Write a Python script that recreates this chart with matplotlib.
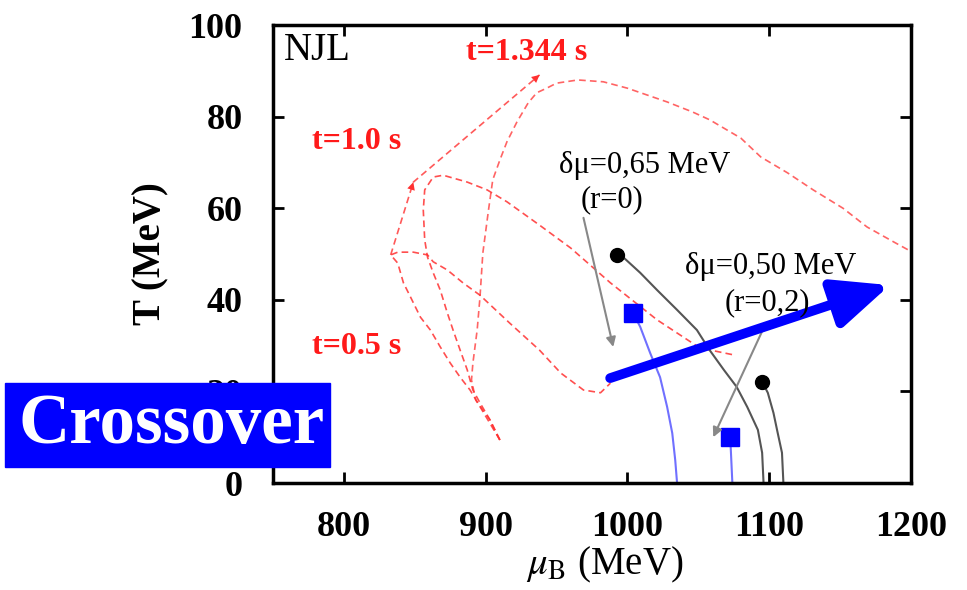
import matplotlib
matplotlib.use('Agg')
import matplotlib.pyplot as plt
from matplotlib.patches import Rectangle

plt.rcParams['font.family'] = ['Liberation Serif', 'DejaVu Serif']
plt.rcParams['mathtext.fontset'] = 'stix'

# temperature profiles (mu_B in MeV, T in MeV)
mu_05 = [910, 889, 882, 875, 868, 861, 854, 847, 842, 838, 833, 838, 849, 859, 863,
         873, 884, 896, 917, 938, 953, 969, 981, 988]
T_05 = [9.4, 20.3, 23.1, 26.2, 29.7, 33.4, 36.2, 40.6, 43.7, 48.0, 49.8, 50.4, 50.4, 49.8, 48.3,
        46.5, 43.7, 41.0, 34.9, 29.0, 24.0, 20.3, 19.7, 21.8]

mu_10 = [910, 903, 896, 891, 887, 882, 877, 873, 868, 863, 859, 857, 856, 857, 863, 870,
         887, 901, 915, 938, 960, 988, 1021, 1051, 1076]
T_10 = [9.4, 13.8, 17.5, 20.3, 24.7, 29.0, 33.4, 37.1, 42.1, 45.9, 49.3, 53.1, 59.6, 64.0, 66.8, 67.2,
        65.7, 64.0, 61.4, 56.3, 51.3, 43.7, 35.6, 29.5, 27.9]

mu_1344 = [910, 903, 893, 890, 891, 894, 896, 898, 902, 905, 910, 915, 922, 930, 936, 943, 950,
           965, 983, 1000, 1014, 1028, 1046, 1058, 1080, 1094, 1113, 1131, 1152, 1169, 1188, 1198, 1213]
T_1344 = [9.4, 13.8, 18.1, 22.5, 26.2, 33.4, 40.6, 50.2, 59.6, 66.2, 70.5, 74.5, 78.8, 83.0, 85.2, 86.2, 87.3,
          88.0, 87.6, 86.2, 84.7, 83.2, 81.0, 79.3, 75.3, 71.2, 67.7, 64.0, 60.0, 55.9, 52.6, 50.9, 48.3]

# evolution of the temperature maximum
mu_max = [833, 849, 938]
T_max = [49.8, 65.7, 89.1]

# phase boundaries (blue: squares, black: dots)
mu_blue1 = [1004, 1009, 1016, 1023, 1028, 1031.6, 1033.7, 1035]
T_blue1 = [37.1, 34.1, 28.4, 23.1, 16.6, 10.9, 5.0, 0]
mu_blue2 = [1072.5, 1074]
T_blue2 = [10.0, 0]

mu_blk1 = [992.8, 997, 1009, 1021, 1035, 1049, 1058, 1068, 1077, 1084.5, 1092, 1095, 1096]
T_blk1 = [49.8, 49.3, 45.9, 42.1, 37.8, 33.4, 29.0, 24.7, 21.0, 16.6, 11.6, 6.6, 0]
mu_blk2 = [1095, 1099, 1103, 1106, 1109, 1110]
T_blk2 = [22.1, 19.7, 15.3, 10.9, 6.6, 0]

fig = plt.figure(figsize=(9.67, 5.90), dpi=100)
ax = fig.add_axes([273 / 967, 1 - 483 / 590, (911 - 273) / 967, (483 - 25) / 590])

red = '#ff3030'
dash = (0, (4, 2.5))
ax.plot(mu_05, T_05, color=red, lw=1.2, ls=dash, alpha=0.85)
ax.plot(mu_10, T_10, color=red, lw=1.2, ls=dash, alpha=0.85)
ax.plot(mu_1344, T_1344, color=red, lw=1.2, ls=dash, alpha=0.75)
ax.plot(mu_max, T_max, color=red, lw=1.2, ls=dash, alpha=0.8)
for i in range(1, len(mu_max)):
    ax.annotate('', xy=(mu_max[i], T_max[i]), xytext=(mu_max[i - 1], T_max[i - 1]),
                arrowprops=dict(arrowstyle='-|>', color=red, lw=0, mutation_scale=14,
                                shrinkA=0, shrinkB=0))

ax.plot(mu_blue1, T_blue1, color='#7070ff', lw=1.5)
ax.plot(mu_blue2, T_blue2, color='#7070ff', lw=1.5)
ax.plot([mu_blue1[0], mu_blue2[0]], [T_blue1[0], T_blue2[0]], 's', color='#0000ff', ms=13, ls='none')

ax.plot(mu_blk1, T_blk1, color='#555555', lw=1.5)
ax.plot(mu_blk2, T_blk2, color='#555555', lw=1.5)
ax.plot([mu_blk1[0], mu_blk2[0]], [T_blk1[0], T_blk2[0]], 'o', color='black', ms=10, ls='none')

# gray arrows from the labels
ax.annotate('', xy=(990, 29.7), xytext=(969, 57.9),
            arrowprops=dict(arrowstyle='-|>', color='#888888', lw=1.5, mutation_scale=14,
                            shrinkA=0, shrinkB=0))
ax.annotate('', xy=(1060.5, 10.0), xytext=(1096, 33.8),
            arrowprops=dict(arrowstyle='-|>', color='#888888', lw=1.5, mutation_scale=14,
                            shrinkA=0, shrinkB=0))

# thick blue arrow
ax.annotate('', xy=(1185, 43.2), xytext=(987.8, 22.9),
            arrowprops=dict(arrowstyle='-|>,head_length=0.75,head_width=0.33', color='#0000ff',
                            lw=7, mutation_scale=45, shrinkA=0, shrinkB=0))

# labels
lab = dict(color='#ff1a1a', fontsize=23, fontweight='bold', ha='center', va='center')
ax.text(929, 94.1, 't=1.344 s', **lab)
ax.text(809, 74.5, 't=1.0 s', **lab)
ax.text(809, 29.7, 't=0.5 s', **lab)
ax.text(758, 94.5, 'NJL', fontsize=28, ha='left', va='center')
blk = dict(color='black', fontsize=22, ha='center', va='center')
ax.text(1012.5, 69.4, 'δμ=0,65 MeV', **blk)
ax.text(989, 61.8, '(r=0)', **blk)
ax.text(1100.7, 47.2, 'δμ=0,50 MeV', **blk)
ax.text(1099, 39.3, '(r=0,2)', **blk)

ax.set_xlim(750, 1200)
ax.set_ylim(0, 100)
ax.set_xticks([800, 900, 1000, 1100, 1200])
ax.set_yticks([0, 20, 40, 60, 80, 100])
ax.tick_params(direction='in', length=8, width=2, top=True, right=True, labelsize=26)
ax.tick_params(axis='x', pad=20)
ax.tick_params(axis='y', pad=22)
for lbl in ax.get_xticklabels() + ax.get_yticklabels():
    lbl.set_fontweight('bold')
for s in ax.spines.values():
    s.set_linewidth(2.5)
ax.set_xlabel(r'$\mu_{\rm B}$ (MeV)', fontsize=28, labelpad=-2)
ax.xaxis.set_label_coords(0.52, -0.135)
ax.set_ylabel('T (MeV)', fontsize=28, fontweight='bold', labelpad=14)

# Crossover box
fig.patches.append(Rectangle((5 / 967, 1 - 467 / 590), 325 / 967, 84 / 590,
                             transform=fig.transFigure, color='#0000ff', zorder=10))
fig.text(172 / 967, 1 - 425 / 590, 'Crossover', color='white', fontsize=51,
         fontweight='bold', ha='center', va='center', zorder=11)

fig.savefig('out.png', dpi=100)
